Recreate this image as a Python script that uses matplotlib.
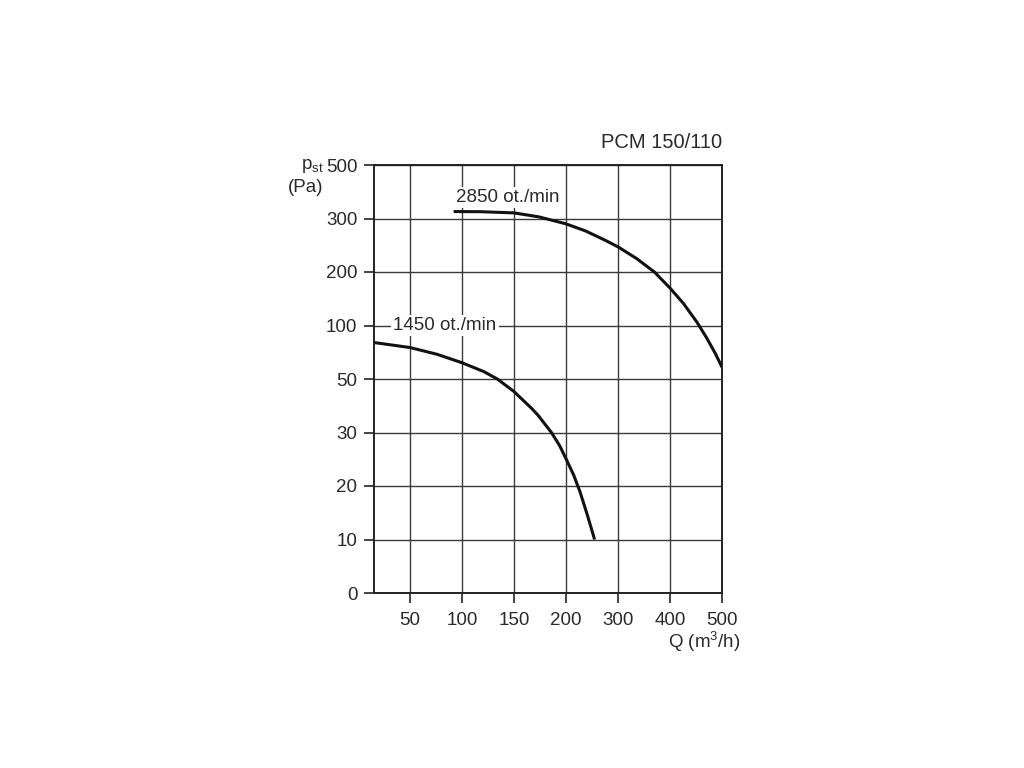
import matplotlib
matplotlib.use("Agg")
import matplotlib.pyplot as plt
import numpy as np

plt.rcParams['font.family'] = ['Liberation Sans', 'DejaVu Sans']

# axis tick values (non-uniform, equally spaced on the chart)
x_ticks = [0, 50, 100, 150, 200, 300, 400, 500]
y_ticks = [0, 10, 20, 30, 50, 100, 200, 300, 500]

# fan curves
q_2850 = [92, 117, 150, 174, 200, 238, 276, 300, 336, 370, 400, 426, 452, 471, 487, 500]
p_2850 = [326, 325.5, 321, 306, 290, 276.6, 259, 247, 225, 200, 170, 141, 106, 88, 74, 61]

q_1450 = [16, 50, 76, 100, 121, 134, 150, 167, 173, 186, 194, 200, 215, 227, 241, 255]
p_1450 = [84, 79.4, 73.1, 65.2, 56.9, 50, 45.3, 39, 36.5, 30, 27.5, 25.1, 22, 18.9, 14.6, 10]

title = "PCM 150/110"
lab_2850 = "2850 ot./min"
lab_1450 = "1450 ot./min"

x_idx = np.arange(len(x_ticks))
y_idx = np.arange(len(y_ticks))


def fx(v):
    return np.interp(v, x_ticks, x_idx)


def ix(p):
    return np.interp(p, x_idx, x_ticks)


def fy(v):
    return np.interp(v, y_ticks, y_idx)


def iy(p):
    return np.interp(p, y_idx, y_ticks)


fig = plt.figure(figsize=(10.24, 7.68), dpi=100)
ax = fig.add_axes([374 / 1024, 1 - 593 / 768, 348 / 1024, 428 / 768])
ax.set_xscale('function', functions=(fx, ix))
ax.set_yscale('function', functions=(fy, iy))
ax.set_xlim(15.4, 500)
ax.set_ylim(0, 500)

ax.set_xticks(x_ticks[1:])
ax.set_xticklabels([str(v) for v in x_ticks[1:]])
ax.set_yticks(y_ticks)
ax.set_yticklabels([str(v) for v in y_ticks])
ax.minorticks_off()

txt = '#2a2a2a'
fs = 13.5
ax.tick_params(axis='both', direction='out', length=7, width=1.2, color='#222222',
               labelsize=fs, labelcolor=txt, pad=5)
ax.tick_params(axis='x', pad=7)
ax.grid(True, color='#3a3a3a', linewidth=1.0)
for s in ax.spines.values():
    s.set_color('#222222')
    s.set_linewidth(1.4)

ax.plot(q_2850, p_2850, color='#111111', linewidth=2.2, solid_capstyle='butt', zorder=3)
ax.plot(q_1450, p_1450, color='#111111', linewidth=2.2, solid_capstyle='butt', zorder=3)

ax.text(94, 379, lab_2850, fontsize=fs, color=txt, ha='left', va='center', zorder=4,
        bbox=dict(facecolor='white', edgecolor='none', pad=1.5))
ax.text(34, 100, lab_1450, fontsize=fs, color=txt, ha='left', va='center', zorder=4,
        bbox=dict(facecolor='white', edgecolor='none', pad=1.5))

fig.text(722 / 1024, 1 - 142 / 768, title, fontsize=14.5, color=txt, ha='right', va='center')
fig.text(324 / 1024, 1 - 166 / 768, r'p$_{\mathregular{st}}$', fontsize=fs, color=txt,
         ha='right', va='center')
fig.text(323 / 1024, 1 - 187 / 768, "(Pa)", fontsize=fs, color=txt, ha='right', va='center')
fig.text(740 / 1024, 1 - 642 / 768, r'Q (m$^{\mathregular{3}}$/h)', fontsize=fs, color=txt,
         ha='right', va='center')

fig.savefig("out.png", dpi=100, facecolor='white')
